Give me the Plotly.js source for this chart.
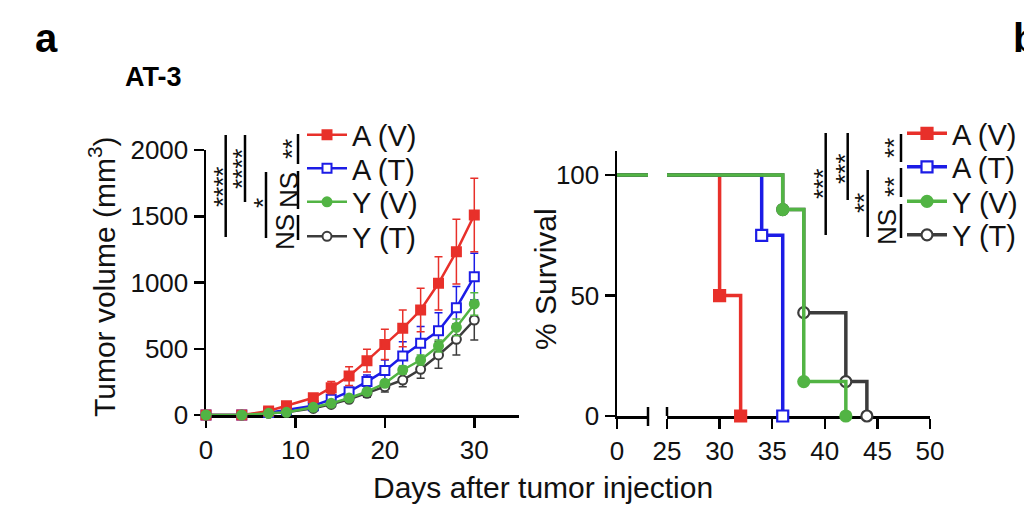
<!DOCTYPE html>
<html>
<head>
<meta charset="utf-8">
<script src="https://cdn.plot.ly/plotly-3.0.1.min.js"></script>
<style>html,body{margin:0;padding:0;background:#fff;}#chart{width:1024px;height:524px;}</style>
</head>
<body>
<div id="chart"></div>
<script>
// ---------- data ----------
const groupNames = ['A (V)', 'A (T)', 'Y (V)', 'Y (T)'];

// Tumor growth (mean and SEM, mm^3)
const tumorDays = [0, 4, 7, 9, 12, 14, 16, 18, 20, 22, 24, 26, 28, 30];
const avVol = [0, 0, 30, 70, 130, 206, 294, 410, 533, 654, 792, 994, 1233, 1509];
const avSE  = [0, 0, 8, 12, 20, 46, 71, 86, 114, 138, 164, 201, 244, 277];
const atVol = [0, 0, 18, 38, 70, 118, 176, 252, 335, 445, 541, 636, 810, 1044];
const atSE  = [0, 0, 4, 6, 10, 18, 30, 50, 80, 108, 126, 136, 159, 176];
const yvVol = [0, 0, 13, 20, 58, 88, 128, 176, 239, 340, 415, 521, 662, 838];
const yvSE  = [0, 0, 3, 4, 8, 12, 15, 20, 25, 30, 38, 45, 63, 85];
const ytVol = [0, 0, 13, 20, 50, 80, 118, 164, 214, 264, 345, 453, 571, 717];
const ytSE  = [0, 0, 3, 4, 8, 12, 20, 30, 40, 50, 68, 101, 118, 151];

// Kaplan-Meier survival (% survival at each event day)
const avSurvDays = [0, 30, 32];
const avSurv     = [100, 50, 0];
const atSurvDays = [0, 34, 36];
const atSurv     = [100, 75, 0];
const yvSurvDays = [0, 36, 38, 42];
const yvSurv     = [100, 85.7, 14.3, 0];
const ytSurvDays = [0, 36, 38, 42, 44];
const ytSurv     = [100, 85.7, 42.9, 14.3, 0];

// tick labels
const tumorXTicks = [0, 10, 20, 30];
const tumorYTicks = [0, 500, 1000, 1500, 2000];
const survYTicks = [0, 50, 100];
const survXTicksA = [0];
const survXTicksB = [25, 30, 35, 40, 45, 50];

// significance labels
const tumorSig = ['****', '****', '*', '**', 'NS', 'NS'];
const survSig = ['***', '***', '**', '**', '**', 'NS'];

// ---------- styling helpers ----------
const W = 1024, H = 524;
const px = v => v / W;
const py = v => 1 - v / H;
const FONT = 'Liberation Sans, Arial, Helvetica, sans-serif';
const RED = '#e8302a', BLUE = '#1c1ce6', GREEN = '#52b444', DARK = '#3c3c3c';

const styles = [
  {color: RED,   symbol: 'square', fill: RED},
  {color: BLUE,  symbol: 'square', fill: '#ffffff'},
  {color: GREEN, symbol: 'circle', fill: GREEN},
  {color: DARK,  symbol: 'circle', fill: '#ffffff'}
];

const tumorVals = [avVol, atVol, yvVol, ytVol];
const tumorErr = [avSE, atSE, yvSE, ytSE];
const survX = [avSurvDays, atSurvDays, yvSurvDays, ytSurvDays];
const survY = [avSurv, atSurv, yvSurv, ytSurv];

const traces = [];
// tumor chart: draw order Y(T), A(T), A(V), Y(V)
[3, 1, 0, 2].forEach(i => {
  const s = styles[i];
  traces.push({
    x: tumorDays, y: tumorVals[i], xaxis: 'x', yaxis: 'y',
    mode: 'lines+markers', name: groupNames[i],
    legend: i === 0 ? 'legend' : 'legend' + (i + 1),
    cliponaxis: false,
    line: {color: s.color, width: 2.5},
    marker: {symbol: s.symbol, size: 9, color: s.fill, line: {color: s.color, width: 2}},
    error_y: {type: 'data', array: tumorErr[i], visible: true, color: s.color, thickness: 1.5, width: 4},
    hoverinfo: 'skip'
  });
});
// survival: draw order red, blue, dark, green
[0, 1, 3, 2].forEach(i => {
  const s = styles[i];
  // first axis segment (0..3): line only
  traces.push({
    x: survX[i], y: survY[i], xaxis: 'x2', yaxis: 'y2',
    mode: 'lines', showlegend: false,
    line: {color: s.color, width: 3.5, shape: 'hv'},
    hoverinfo: 'skip'
  });
  // second axis segment (25..50)
  traces.push({
    x: survX[i], y: survY[i], xaxis: 'x3', yaxis: 'y2',
    mode: 'lines+markers', name: groupNames[i],
    legend: 'legend' + (i + 5),
    cliponaxis: false,
    line: {color: s.color, width: 3.5, shape: 'hv'},
    marker: {symbol: s.symbol, size: 11, color: s.fill, line: {color: s.color, width: 2.2}},
    hoverinfo: 'skip'
  });
});

const axisBase = {
  showline: true, linecolor: '#000', linewidth: 2.5,
  ticks: 'outside', ticklen: 10, tickwidth: 2.5, tickcolor: '#000',
  showgrid: false, zeroline: false, layer: 'below traces',
  tickfont: {family: FONT, size: 26, color: '#111'}, fixedrange: true
};

const layout = {
  width: W, height: H,
  margin: {l: 0, r: 0, t: 0, b: 0},
  paper_bgcolor: '#fff', plot_bgcolor: 'rgba(0,0,0,0)',
  font: {family: FONT, color: '#111'},
  xaxis: Object.assign({}, axisBase, {domain: [px(206), px(519)], range: [0, 35], tickvals: tumorXTicks, anchor: 'y'}),
  yaxis: Object.assign({}, axisBase, {domain: [py(415), py(150)], range: [0, 2000], tickvals: tumorYTicks, anchor: 'x'}),
  xaxis2: Object.assign({}, axisBase, {domain: [px(617), px(648)], range: [0, 3], tickvals: survXTicksA, anchor: 'y2'}),
  xaxis3: Object.assign({}, axisBase, {domain: [px(667), px(930)], range: [25, 50], tickvals: survXTicksB, anchor: 'y2'}),
  yaxis2: Object.assign({}, axisBase, {domain: [py(416), py(151)], range: [0, 110], tickvals: survYTicks, anchor: 'x2'}),
  shapes: [],
  annotations: []
};

// legends: one per entry so the row spacing matches
const legRowsL = [135, 168.5, 202, 236.5];
const legRowsR = [133.5, 167, 201.5, 235];
for (let k = 0; k < 8; k++) {
  const key = k === 0 ? 'legend' : 'legend' + (k + 1);
  const left = k < 4;
  layout[key] = {
    x: px(left ? 302 : 902), xanchor: 'left',
    y: py(left ? legRowsL[k] : legRowsR[k - 4]), yanchor: 'middle',
    bgcolor: 'rgba(0,0,0,0)', borderwidth: 0, itemwidth: 40,
    font: {family: FONT, size: 29, color: '#111'}
  };
}

// significance bars
const lineStyle = {color: '#000', width: 2.5};
const tumorBars = [[225.7, 135, 237], [245, 135, 202], [266, 172, 238], [298, 134, 164], [298, 171, 209], [298, 215, 240]];
const survBars = [[825.7, 133, 235], [847.7, 133, 200], [867.7, 170, 237], [901, 134, 162], [901, 168, 197], [901, 204, 238]];
tumorBars.concat(survBars).forEach(b => {
  layout.shapes.push({type: 'line', xref: 'paper', yref: 'paper', x0: px(b[0]), x1: px(b[0]), y0: py(b[1]), y1: py(b[2]), line: lineStyle});
});
// cross ticks at the axis break
layout.shapes.push({type: 'line', xref: 'paper', yref: 'paper', x0: px(648), x1: px(648), y0: py(407), y1: py(426), line: lineStyle});
layout.shapes.push({type: 'line', xref: 'paper', yref: 'paper', x0: px(667), x1: px(667), y0: py(407), y1: py(416), line: lineStyle});

const tumorSigPos = [[217, 187], [236, 169], [257, 203], [286, 149], [289, 190], [285, 232]];
const survSigPos = [[817, 184], [839, 169], [858, 203], [888, 148], [888, 187], [887, 227]];
function addSig(labels, pos) {
  labels.forEach((t, i) => {
    const isStar = t.indexOf('*') >= 0;
    layout.annotations.push({
      text: t, xref: 'paper', yref: 'paper', showarrow: false,
      x: px(pos[i][0] + (isStar ? 6 : 0)), y: py(pos[i][1]),
      xanchor: 'center', yanchor: 'middle', textangle: -90,
      font: {family: FONT, size: 26, color: '#111'}
    });
  });
}
addSig(tumorSig, tumorSigPos);
addSig(survSig, survSigPos);

// titles and panel labels
const ann = (text, x, y, opts) => Object.assign({
  text: text, xref: 'paper', yref: 'paper', showarrow: false,
  x: px(x), y: py(y), xanchor: 'center', yanchor: 'middle',
  font: {family: FONT, size: 30, color: '#111'}
}, opts || {});
layout.annotations.push(ann('a', 33, 38, {xanchor: 'left', font: {family: FONT, size: 40, color: '#000', weight: 'bold'}}));
layout.annotations.push(ann('b', 1011, 38, {xanchor: 'left', font: {family: FONT, size: 40, color: '#000', weight: 'bold'}}));
layout.annotations.push(ann('<b>AT-3</b>', 123, 77, {xanchor: 'left', font: {family: FONT, size: 27, color: '#000'}}));
layout.annotations.push(ann('Tumor volume (mm<sup>3</sup>)', 102, 277, {textangle: -90}));
layout.annotations.push(ann('% Survival', 545, 279, {textangle: -90}));
layout.annotations.push(ann('Days after tumor injection', 543, 487));

Plotly.newPlot('chart', traces, layout, {displayModeBar: false, staticPlot: true});
</script>
</body>
</html>
